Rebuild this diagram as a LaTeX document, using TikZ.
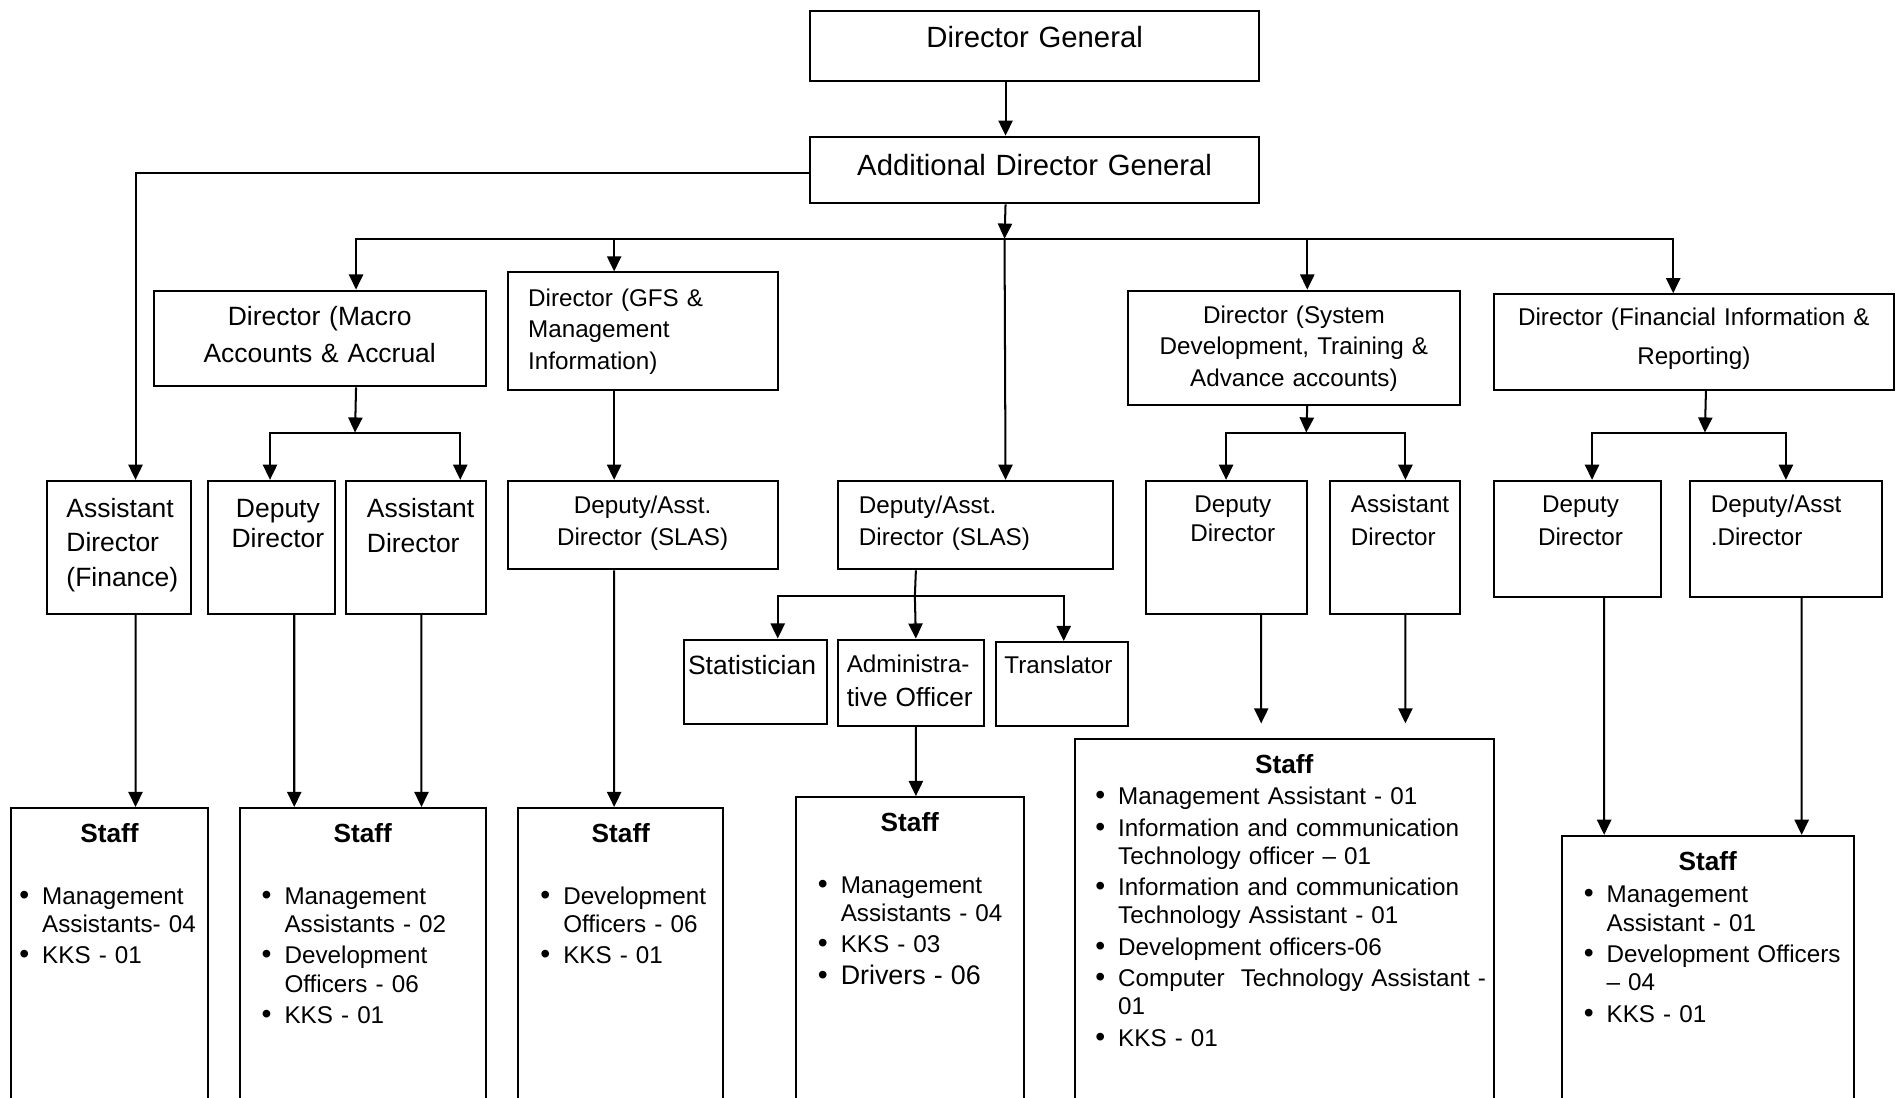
\documentclass[tikz,border=0pt]{standalone}
\usepackage{fontspec}
\setmainfont{Liberation Sans}
\usetikzlibrary{arrows.meta, positioning, calc}
\hyphenpenalty=10000
\exhyphenpenalty=10000

\newcommand\fontL{\fontsize{14.5}{17}\selectfont}
\newcommand\fontM[1]{\fontsize{13.1}{#1}\selectfont}
\newcommand\fontS[1]{\fontsize{12}{#1}\selectfont}
\newcommand\dotmark{{\fontsize{14}{14}\selectfont\textbullet}}

% bullet list used in the staff boxes
\newenvironment{stafflist}[1][19.2pt]{%
  \begin{list}{\dotmark}{\setlength\leftmargin{#1}\setlength\labelsep{6.4pt}%
    \setlength\labelwidth{\dimexpr#1-6.4pt\relax}\setlength\itemsep{1.5pt}%
    \setlength\parsep{0pt}\setlength\topsep{0pt}\setlength\partopsep{0pt}}}%
  {\end{list}}

\begin{document}
\begin{tikzpicture}[x=0.6pt, y=-0.6pt, line width=1pt,
    post/.style={draw, anchor=north west, inner ysep=0pt, inner xsep=4pt, align=left},
    dims/.style n args={3}{text width=#1, text height=#2, text depth=#3},
    staff/.style={post, inner xsep=3pt, font=\fontS{14}, text height=17pt},
    arr/.style={-{Triangle[length=7.5pt, width=7pt]}}]
  \useasboundingbox (0,0) rectangle (1568,906);
  \clip (0,0) rectangle (1568,906);

  % top level
  \node[post, dims={214pt}{18.4pt}{16.4pt}, align=center, font=\fontL] (dg) at (668,8) {Director General};
  \node[post, dims={214pt}{19pt}{14pt}, align=center, font=\fontL] (adg) at (668,112) {Additional Director General};

  % directors
  \node[post, dims={156.4pt}{17.4pt}{30pt}, align=center, font=\fontM{18}] (macro) at (126,239) {Director (Macro\\Accounts \& Accrual};
  \node[post, inner xsep=10.2pt, dims={113.4pt}{16.8pt}{41.4pt}, font=\fontS{15.6}] (gfs) at (418,224) {Director (GFS \&\\Management\\Information)};
  \node[post, dims={156.4pt}{16.2pt}{40.2pt}, align=center, font=\fontS{15.6}] (sysd) at (930,239) {Director (System\\Development, Training \&\\Advance accounts)};
  \node[post, dims={190pt}{15.6pt}{31.8pt}, align=center, font=\fontS{19.2}] (fir) at (1232,242) {Director (Financial Information \&\\Reporting)};

  % deputies and assistants
  \node[post, inner xsep=9.6pt, dims={52.2pt}{18pt}{48pt}, font=\fontM{17.1}] (adfin) at (38,396) {Assistant\\Director\\(Finance)};
  \node[post, inner xsep=2pt, dims={59pt}{18pt}{48pt}, align=center, font=\fontM{15}] (ddmac) at (171,396) {\hspace*{6pt}Deputy\\\hspace*{6pt}Director};
  \node[post, inner xsep=10.2pt, dims={48.6pt}{18pt}{48pt}, font=\fontM{17.4}] (admac) at (285,396) {Assistant\\Director};
  \node[post, dims={125.8pt}{16.2pt}{27.6pt}, align=center, font=\fontS{15.6}] (slasA) at (418,396) {Deputy/Asst.\\Director (SLAS)};
  \node[post, inner xsep=10.2pt, dims={115.8pt}{16.2pt}{27.6pt}, font=\fontS{15.6}] (slasB) at (691,396) {Deputy/Asst.\\Director (SLAS)};
  \node[post, dims={71.8pt}{15.6pt}{50.4pt}, align=center, font=\fontS{14.4}] (ddsys) at (945,396) {\hspace*{6pt}Deputy\\\hspace*{6pt}Director};
  \node[post, inner xsep=10.2pt, dims={43.8pt}{15.6pt}{50.4pt}, font=\fontS{16.2}] (adsys) at (1097,396) {Assistant\\Director};
  \node[post, dims={74.8pt}{15.6pt}{42pt}, align=center, font=\fontS{16.2}] (ddfin) at (1232,396) {\hspace*{3pt}Deputy\\\hspace*{3pt}Director};
  \node[post, inner xsep=10.2pt, dims={74.4pt}{15.6pt}{42pt}, font=\fontS{16.2}] (dafin) at (1394,396) {Deputy/Asst\\.Director};

  % officers under SLAS
  \node[post, inner xsep=1.8pt, dims={67.2pt}{17.4pt}{24.6pt}, font=\fontM{17}] (stat) at (564,527) {Statistician};
  \node[post, inner xsep=4.2pt, dims={63.6pt}{16.2pt}{26.4pt}, font=\fontS{16.8}] (admo) at (691,527) {Administra-\\{\fontsize{13}{16.8}\selectfont tive Officer}};
  \node[post, inner xsep=4.2pt, dims={57pt}{15.6pt}{25.8pt}, font=\fontS{16}] (trans) at (821,529) {Translator};

  % staff
  \node[staff, text width=91.8pt, text depth=135.4pt] (stFin) at (8,666) {%
    {\centering\fontsize{13}{14}\selectfont\bfseries Staff\par}\vspace{16.6pt}
    \begin{stafflist}[12.6pt]
      \item Management\\Assistants- 04
      \item KKS - 01
    \end{stafflist}};
  \node[staff, text width=115.8pt, text depth=135.4pt] (stMac) at (197,666) {%
    {\centering\fontsize{13}{14}\selectfont\bfseries Staff\par}\vspace{16.6pt}
    \begin{stafflist}
      \item Management\\Assistants - 02
      \item Development\\Officers - 06
      \item KKS - 01
    \end{stafflist}};
  \node[staff, text width=95.4pt, text depth=135.4pt] (stGfs) at (427,666) {%
    {\centering\fontsize{13}{14}\selectfont\bfseries Staff\par}\vspace{16.6pt}
    \begin{stafflist}
      \item Development\\Officers - 06
      \item KKS - 01
    \end{stafflist}};
  \node[staff, text width=106.8pt, text depth=140.8pt] (stAdm) at (656,657) {%
    {\centering\fontsize{13}{14}\selectfont\bfseries Staff\par}\vspace{16.6pt}
    \begin{stafflist}
      \item Management\\Assistants - 04
      \item KKS - 03
      \item {\fontsize{13.3}{14}\selectfont Drivers - 06}
    \end{stafflist}};
  \node[staff, text width=201.6pt, text depth=169.6pt] (stSys) at (886,609) {%
    {\centering\fontsize{13}{14}\selectfont\bfseries Staff\par}\vspace{1.6pt}
    \begin{stafflist}[18.6pt]
      \item Management Assistant - 01
      \item Information and communication\\Technology officer -- 01
      \item Information and communication\\Technology Assistant - 01
      \item Development officers-06
      \item \mbox{Computer\ \ Technology Assistant -}\\01
      \item KKS - 01
    \end{stafflist}};
  \node[staff, text width=138.6pt, text depth=121.6pt] (stFir) at (1288,689) {%
    {\centering\fontsize{13}{14}\selectfont\bfseries Staff\par}\vspace{2.2pt}
    \begin{stafflist}
      \item Management\\Assistant - 01
      \item \mbox{Development Officers}\\-- 04
      \item KKS - 01
    \end{stafflist}};

  % junctions of the branch lines
  \coordinate (bus) at (829,197);
  \coordinate (macbus) at (293,357);
  \coordinate (slasbus) at (755,492);
  \coordinate (sysbus) at (1078,357);
  \coordinate (firbus) at (1407,357);

  % top connectors
  \draw[arr] ([xshift=-14.4pt]dg.south) -- ([xshift=-14.4pt]adg.north);
  \draw[arr] ([yshift=-1.5pt]adg.west) -| ([xshift=8.1pt]adfin.north);
  \draw[arr] ([xshift=-14.4pt]adg.south) -- (bus);
  \draw[arr] (bus) -| ([xshift=18pt]macro.north);
  \draw[arr] (bus) -| ([xshift=-14.1pt]gfs.north);
  \draw[arr] (bus) -- ([xshift=14.7pt]slasB.north);
  \draw[arr] (bus) -| ([xshift=6.6pt]sysd.north);
  \draw[arr] (bus) -| ([xshift=-10.2pt]fir.north);

  % macro accounts
  \draw[arr] ([xshift=18pt]macro.south) -- (macbus);
  \draw[arr] (macbus) -| ([xshift=-0.9pt]ddmac.north);
  \draw[arr] (macbus) -| ([xshift=21.9pt]admac.north);
  \draw[arr] ([xshift=8.1pt]adfin.south) -- ([xshift=12.9pt]stFin.north);
  \draw[arr] ([xshift=11.1pt]ddmac.south) -- ([xshift=-33.9pt]stMac.north);
  \draw[arr] ([xshift=2.7pt]admac.south) -- ([xshift=29.1pt]stMac.north);

  % GFS
  \draw[arr] ([xshift=-14.1pt]gfs.south) -- ([xshift=-14.1pt]slasA.north);
  \draw[arr] ([xshift=-14.1pt]slasA.south) -- ([xshift=-3.3pt]stGfs.north);

  % SLAS
  \draw ([xshift=-29.7pt]slasB.south) -- (slasbus);
  \draw[arr] (slasbus) -| ([xshift=10.8pt]stat.north);
  \draw[arr] (slasbus) -- ([xshift=2.4pt]admo.north);
  \draw[arr] (slasbus) -| ([xshift=0.9pt]trans.north);
  \draw[arr] ([xshift=2.4pt]admo.south) -- ([xshift=3pt]stAdm.north);

  % system development
  \draw[arr] ([xshift=6.6pt]sysd.south) -- (sysbus);
  \draw[arr] (sysbus) -| ([xshift=-0.3pt]ddsys.north);
  \draw[arr] (sysbus) -| ([xshift=5.1pt]adsys.north);
  \draw[arr, shorten >=7.2pt] ([xshift=17.1pt]ddsys.south) -- ([xshift=-11.4pt]stSys.north);
  \draw[arr, shorten >=7.2pt] ([xshift=5.1pt]adsys.south) -- ([xshift=60pt]stSys.north);

  % financial information
  \draw[arr] ([xshift=6pt]fir.south) -- (firbus);
  \draw[arr] (firbus) -| ([xshift=7.2pt]ddfin.north);
  \draw[arr] (firbus) -| (dafin.north);
  \draw[arr] ([xshift=13.2pt]ddfin.south) -- ([xshift=-51.3pt]stFir.north);
  \draw[arr] ([xshift=7.8pt]dafin.south) -- ([xshift=46.5pt]stFir.north);
\end{tikzpicture}
\end{document}
